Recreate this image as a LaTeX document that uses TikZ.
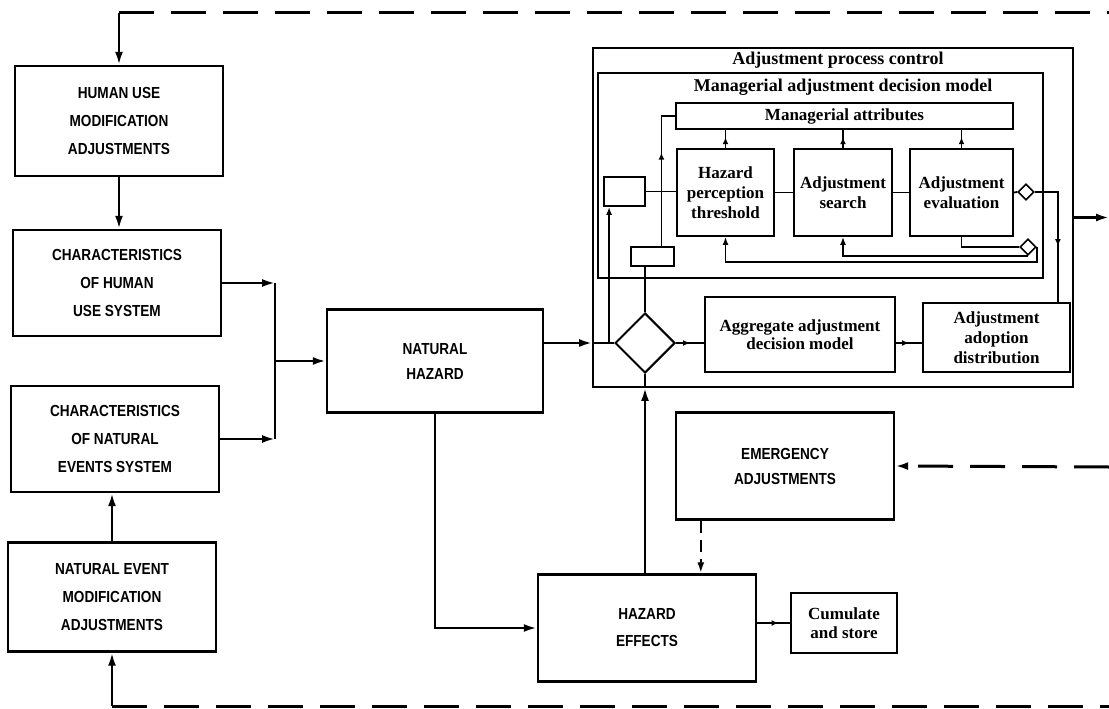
\documentclass[tikz,border=0pt]{standalone}
\usepackage{fontspec}
\setmainfont{Liberation Serif}
\newfontfamily\capsfont[FakeStretch=0.85]{Liberation Sans}
\usetikzlibrary{arrows.meta,shapes.geometric,decorations.markings}

\tikzset{
  capbox/.style={draw,line width=2.4pt,minimum width=208pt,align=center,inner sep=0pt,
    font=\capsfont\bfseries\fontsize{16}{28}\selectfont},
  serbox/.style={draw,line width=1.8pt,align=center,inner sep=0pt,
    font=\bfseries\fontsize{17}{20}\selectfont},
  plainbox/.style={draw,line width=1.8pt,inner sep=0pt},
  flow/.style={line width=2.4pt,-{Latex[length=13pt,width=8pt]}},
  link/.style={line width=1.8pt},
  smallflow/.style={line width=1.8pt,-{Latex[length=8pt,width=6pt]}},
  dashline/.style={line width=3pt,dash pattern=on 35pt off 17pt},
  midtip/.style={postaction={decorate},decoration={markings,
    mark=at position #1 with {\arrow{Latex[length=7pt,width=6pt]}}}},
  smalldia/.style={draw,diamond,line width=1.6pt,minimum width=16pt,minimum height=16pt,inner sep=0pt},
}

\begin{document}
\begin{tikzpicture}[x=1pt,y=1pt,yscale=-1]
\useasboundingbox (0,0) rectangle (1109,709);

%Left column
\node[capbox,minimum height=110pt] (hum) at (119,121) {HUMAN USE\\MODIFICATION\\ADJUSTMENTS};
\node[capbox,minimum height=106pt] (chum) at (117,283) {CHARACTERISTICS\\OF HUMAN\\USE SYSTEM};
\node[capbox,minimum height=106pt] (cnat) at (115,439) {CHARACTERISTICS\\OF NATURAL\\EVENTS SYSTEM};
\node[capbox,minimum height=109pt] (nev) at (112,597) {NATURAL EVENT\\MODIFICATION\\ADJUSTMENTS};

%Middle boxes
\node[capbox,minimum width=216pt,minimum height=103pt,font=\capsfont\bfseries\fontsize{16}{25}\selectfont] (nh) at (435,361) {NATURAL\\HAZARD};
\node[capbox,minimum width=218pt,minimum height=107pt,font=\capsfont\bfseries\fontsize{16}{27}\selectfont] (he) at (647,628) {HAZARD\\EFFECTS};
\node[capbox,minimum width=218pt,minimum height=107pt,font=\capsfont\bfseries\fontsize{16}{25}\selectfont] (emg) at (785,466) {EMERGENCY\\ADJUSTMENTS};
\node[serbox,minimum width=106pt,minimum height=60pt,font=\bfseries\fontsize{17}{19}\selectfont] (cum) at (844,623) {Cumulate\\and store};

%Adjustment process control
\node[plainbox,minimum width=480pt,minimum height=339pt] (apc) at (833,217.5) {};
\node[font=\bfseries\fontsize{18}{20}\selectfont] (apct) at (838,60) {Adjustment process control};
\node[plainbox,minimum width=445pt,minimum height=205pt] (madm) at (820.5,175.5) {};
\node[font=\bfseries\fontsize{18}{20}\selectfont] (madmt) at (843,87) {Managerial adjustment decision model};
\node[serbox,minimum width=337pt,minimum height=26pt] (mattr) at (844.5,116) {Managerial attributes};
\node[serbox,minimum width=97pt,minimum height=87pt] (hpt) at (725.5,192.5) {Hazard\\perception\\threshold};
\node[serbox,minimum width=98pt,minimum height=87pt] (asr) at (843,192.5) {Adjustment\\search};
\node[serbox,minimum width=103pt,minimum height=87pt] (aev) at (961.5,192.5) {Adjustment\\evaluation};
\node[plainbox,minimum width=41pt,minimum height=29pt] (sb1) at (624.5,191.5) {};
\node[plainbox,minimum width=43pt,minimum height=19pt] (sb2) at (652.5,256.5) {};
\node[draw,diamond,line width=2pt,minimum width=60pt,minimum height=60pt,inner sep=0pt] (dia) at (645,343) {};
\node[serbox,minimum width=190pt,minimum height=75pt,font=\bfseries\fontsize{17}{18}\selectfont] (aadm) at (800,334.5) {Aggregate adjustment\\decision model};
\node[serbox,minimum width=147pt,minimum height=69pt] (aad) at (996.5,337.5) {Adjustment\\adoption\\distribution};
\node[smalldia] (sd1) at (1026,192) {};
\node[smalldia] (sd2) at (1028,247) {};

%Free ends
\coordinate (topR) at (1109,13);
\coordinate (botR) at (1109,706);
\coordinate (emgR) at (1109,467);
\coordinate (outR) at (1109,217.5);
\coordinate (jn) at (275,361);
\coordinate (retY) at (0,262);
\coordinate (topC) at (hum.north |- topR);
\coordinate (botC) at (nev.south |- botR);
\coordinate (sb1b) at ([xshift=6pt]sb1.south west);
\coordinate (sb2t) at ([xshift=-13.5pt]sb2.north east);
\coordinate (aadt) at ([xshift=-13pt]aad.north east);
\coordinate (emgb) at ([xshift=26pt]emg.south west);
\coordinate (lowret) at (hpt.south |- retY);

%Feedback loops
\draw[dashline] (topC) -- (topR);
\draw[flow] (topC) -- (hum.north);
\draw[dashline] (botC) -- (botR);
\draw[flow] (botC) -- (nev.south);
\draw[dashline,-{Latex[length=13pt,width=8pt]}] (emgR) -- (emg.east);
\draw[line width=2.2pt,dash pattern=on 12pt off 7pt,-{Latex[length=11pt,width=7pt]}] (emgb) -- (emgb |- he.north);

%Left column links
\draw[flow] (hum.south) -- (hum.south |- chum.north);
\draw[flow] (nev.north) -- (nev.north |- cnat.south);
\draw[flow] (chum.east) -- (chum.east -| jn);
\draw[flow] (cnat.east) -- (cnat.east -| jn);
\draw[line width=2.4pt] (jn |- chum.east) -- (jn |- cnat.east);
\draw[flow] (jn) -- (nh.west);

%Hazard links
\draw[flow] (nh.east |- dia) -- (apc.west |- dia);
\draw[link] (apc.west |- dia) -- (dia.west);
\draw[flow] (nh.south) |- (he.west);
\draw[link,midtip=0.65] (he.east |- cum) -- (cum.west);
\draw[flow] (he.north -| dia) -- (dia |- apc.south);
\draw[link] (dia |- apc.south) -- (dia.south);
\draw[flow] (apc.east) -- (outR);

%Inside the control box
\draw[link,midtip=0.5] (dia.east) -- (dia.east -| aadm.west);
\draw[link,midtip=0.5] (aadm.east |- dia) -- (aad.west |- dia);
\draw[link] (dia.north) -- (dia |- sb2.south);
\draw[smallflow] (sb1b |- dia) -- (sb1b);
\draw[link] (sb1.east) -- (sb1.east -| hpt.west);
\draw[link,midtip=0.65] (sb2t) |- (mattr.west);
\draw[link,midtip=0.6] (hpt.north) -- (hpt.north |- mattr.south);
\draw[link,midtip=0.6] (asr.north) -- (asr.north |- mattr.south);
\draw[link,midtip=0.6] (aev.north) -- (aev.north |- mattr.south);
\draw[link] (hpt.east) -- (asr.west);
\draw[link] (asr.east) -- (aev.west);
\draw[link] (aev.east) -- (sd1.west);
\draw[link,midtip=0.58] (sd1.east) -| (aadt);
\draw[link] (aev.south) |- (sd2.west);
\draw[smallflow] (sd2.south) -| (asr.south);
\draw[smallflow] (sd2.east) |- (lowret) -- (hpt.south);

\end{tikzpicture}
\end{document}
